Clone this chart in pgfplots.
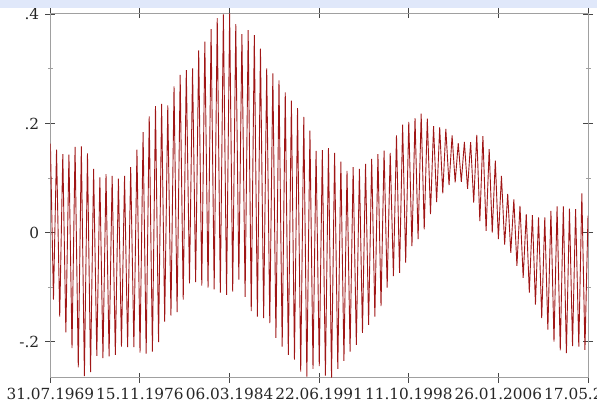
\documentclass[border=0pt]{standalone}
\usepackage{fontspec}
\setmainfont{DejaVu Serif}
\usepackage{pgfplots}
\pgfplotsset{compat=1.18}
\usepackage{pgfplotstable}

\definecolor{seriesred}{RGB}{160,22,22}
\definecolor{framegray}{RGB}{160,160,160}
\definecolor{tickdark}{RGB}{70,70,70}
\definecolor{bandblue}{RGB}{224,232,250}

% semi-annual oscillation: alternating maxima and minima (decimal years)
\pgfplotstableread{
year     value
1969.58  0.163
1969.83 -0.123
1970.08  0.152
1970.34 -0.154
1970.59  0.144
1970.84 -0.183
1971.09  0.143
1971.34 -0.212
1971.59  0.157
1971.85 -0.247
1972.10  0.158
1972.35 -0.263
1972.60  0.145
1972.85 -0.256
1973.10  0.117
1973.36 -0.226
1973.61  0.101
1973.86 -0.230
1974.11  0.107
1974.36 -0.227
1974.61  0.104
1974.87 -0.224
1975.12  0.099
1975.37 -0.209
1975.62  0.104
1975.87 -0.210
1976.12  0.120
1976.38 -0.210
1976.63  0.152
1976.88 -0.220
1977.13  0.184
1977.38 -0.222
1977.63  0.213
1977.89 -0.218
1978.14  0.232
1978.39 -0.201
1978.64  0.236
1978.89 -0.163
1979.14  0.233
1979.40 -0.152
1979.65  0.268
1979.90 -0.146
1980.15  0.289
1980.40 -0.123
1980.65  0.298
1980.91 -0.093
1981.16  0.301
1981.41 -0.091
1981.66  0.334
1981.91 -0.097
1982.16  0.350
1982.42 -0.101
1982.67  0.373
1982.92 -0.104
1983.17  0.393
1983.42 -0.110
1983.67  0.400
1983.93 -0.114
1984.18  0.402
1984.43 -0.108
1984.68  0.382
1984.93 -0.086
1985.18  0.364
1985.44 -0.118
1985.69  0.371
1985.94 -0.144
1986.19  0.362
1986.44 -0.154
1986.69  0.337
1986.95 -0.157
1987.20  0.301
1987.45 -0.166
1987.70  0.292
1987.95 -0.193
1988.20  0.279
1988.46 -0.209
1988.71  0.257
1988.96 -0.224
1989.21  0.242
1989.46 -0.233
1989.71  0.228
1989.97 -0.255
1990.22  0.212
1990.47 -0.264
1990.72  0.187
1990.97 -0.250
1991.22  0.150
1991.48 -0.245
1991.73  0.151
1991.98 -0.262
1992.23  0.155
1992.48 -0.266
1992.73  0.146
1992.99 -0.250
1993.24  0.130
1993.49 -0.235
1993.74  0.113
1993.99 -0.218
1994.24  0.120
1994.50 -0.206
1994.75  0.117
1995.00 -0.184
1995.25  0.126
1995.50 -0.169
1995.75  0.135
1996.01 -0.154
1996.26  0.144
1996.51 -0.135
1996.76  0.150
1997.01 -0.101
1997.26  0.146
1997.52 -0.080
1997.77  0.178
1998.02 -0.074
1998.27  0.198
1998.52 -0.055
1998.77  0.203
1999.03 -0.025
1999.28  0.210
1999.53 -0.012
1999.78  0.218
2000.03  0.006
2000.28  0.209
2000.54  0.034
2000.79  0.195
2001.04  0.056
2001.29  0.193
2001.54  0.072
2001.79  0.190
2002.05  0.087
2002.30  0.178
2002.55  0.092
2002.80  0.164
2003.05  0.093
2003.30  0.166
2003.56  0.080
2003.81  0.166
2004.06  0.055
2004.31  0.179
2004.56  0.021
2004.81  0.177
2005.07  0.003
2005.32  0.153
2005.57  0.000
2005.82  0.132
2006.07 -0.012
2006.32  0.104
2006.58 -0.022
2006.83  0.071
2007.08 -0.037
2007.33  0.061
2007.58 -0.061
2007.83  0.049
2008.09 -0.083
2008.34  0.034
2008.59 -0.110
2008.84  0.032
2009.09 -0.132
2009.34  0.028
2009.60 -0.157
2009.85  0.028
2010.10 -0.178
2010.35  0.040
2010.60 -0.200
2010.85  0.048
2011.11 -0.216
2011.36  0.048
2011.61 -0.221
2011.86  0.044
2012.11 -0.208
2012.36  0.043
2012.62 -0.209
2012.87  0.072
2013.12 -0.215
2013.37  0.031
}\oscdata

\begin{document}
\begin{tikzpicture}
\begin{axis}[
  scale only axis,
  width=537.6pt, height=364.4pt,
  xmin=1969.58, xmax=2013.37,
  ymin=-0.266, ymax=0.402,
  xtick={1969.58,1976.87,1984.18,1991.47,1998.78,2006.07,2013.37},
  xticklabels={31.07.1969,15.11.1976,06.03.1984,22.06.1991,11.10.1998,26.01.2006,17.05.2013},
  ytick={-0.2,0,0.2,0.4},
  yticklabels={-.2,0,.2,.4},
  minor ytick={-0.1,0.1,0.3},
  tick align=center,
  major tick length=10pt,
  minor tick length=5pt,
  axis line style={draw=framegray, line width=1pt},
  major tick style={draw=tickdark, line width=1pt},
  minor tick style={draw=framegray, line width=1pt},
  ticklabel style={font=\fontsize{15.3}{18}\selectfont, text=black!85},
  xticklabel style={anchor=north, inner sep=0pt, yshift=-5.6pt},
  yticklabel style={anchor=east, inner sep=0pt, xshift=-6pt},
]
\addplot[color=seriesred, line width=0.9pt, mark=none] table[x=year, y=value] {\oscdata};
\end{axis}
\fill[bandblue] (-50.4pt,369.7pt) rectangle (546.6pt,377.7pt);
\pgfresetboundingbox
\useasboundingbox (-50.4pt,-25.3pt) rectangle (546.6pt,377.7pt);
\end{tikzpicture}
\end{document}
